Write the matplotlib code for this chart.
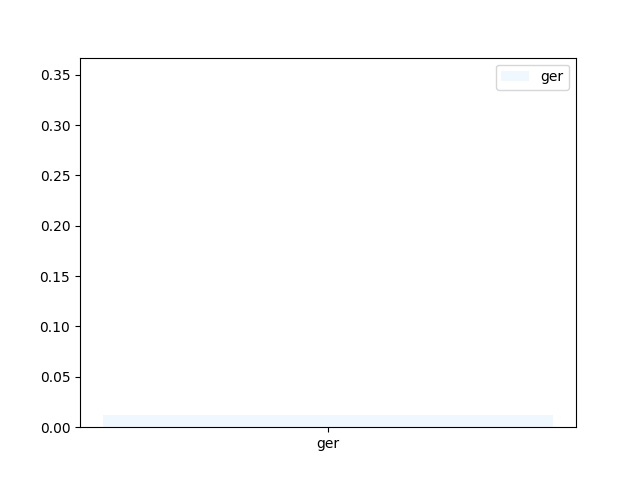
import matplotlib
matplotlib.use("Agg")
import matplotlib.pyplot as plt

# Data
categories = ["ger"]
values = [0.012]

fig, ax = plt.subplots(figsize=(6.4, 4.8), dpi=100)
ax.bar(categories, values, color="aliceblue", label="ger")
ax.set_ylim(0, 0.367)
ax.legend(loc="upper right")

plt.savefig("out.png")
